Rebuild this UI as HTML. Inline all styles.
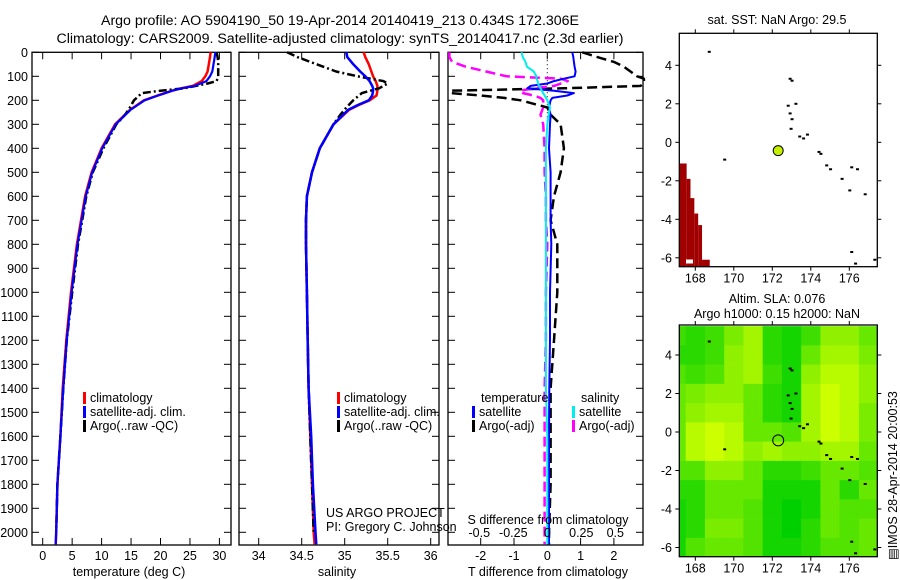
<!DOCTYPE html>
<html><head><meta charset="utf-8">
<style>
html,body{margin:0;padding:0;background:#fff;}
svg{display:block;font-family:"Liberation Sans",sans-serif;}
text{font-size:12.5px;fill:#000;}
.ttl{font-size:14.2px;}
</style></head>
<body>
<svg id="c" width="900" height="580" viewBox="0 0 900 580">
<text class="ttl" x="340" y="25" text-anchor="middle">Argo profile: AO 5904190_50 19-Apr-2014 20140419_213 0.434S 172.306E</text>
<text class="ttl" x="340" y="43" text-anchor="middle">Climatology: CARS2009. Satellite-adjusted climatology: synTS_20140417.nc (2.3d earlier)</text>
<g id="g"></g>
</svg>
<script>
// ---- data ----
const depthTicks=[0,100,200,300,400,500,600,700,800,900,1000,1100,1200,1300,1400,1500,1600,1700,1800,1900,2000];
const tempTicks=[0,5,10,15,20,25,30];
const salTicks=[34,34.5,35,35.5,36];
const salTickLabels=["34","34.5","35","35.5","36"];
const tdTicks=[-2,-1,0,1,2];
const sdTicks=[-0.5,-0.25,0,0.25,0.5];
const sdTickLabels=["-0.5","-0.25","0","0.25","0.5"];

const climDepth=[0,20,50,80,100,120,140,150,160,180,200,220,240,300,400,500,600,700,800,1000,1200,1400,1600,1800,2000,2050];
const climTemp=[28.5,28.4,28.2,28.0,27.6,27.0,25.5,23.5,22.0,19.5,17.2,16.0,14.8,12.3,10.0,8.3,7.2,6.5,5.8,4.8,4.0,3.4,3.0,2.5,2.3,2.2];
const satTemp=[29.3,29.2,29.0,28.8,28.4,27.8,25.8,23.6,22.0,19.6,17.3,16.1,14.9,12.4,10.1,8.4,7.3,6.6,5.9,4.9,4.1,3.5,3.0,2.5,2.3,2.2];
const climSal=[35.22,35.24,35.28,35.31,35.33,35.36,35.38,35.38,35.38,35.37,35.29,35.16,35.05,34.87,34.71,34.62,34.56,34.55,34.55,34.56,34.57,34.58,34.6,34.62,34.64,34.65];
const satSal=[35.02,35.03,35.1,35.18,35.24,35.29,35.32,35.33,35.33,35.32,35.28,35.15,35.04,34.87,34.71,34.62,34.56,34.55,34.55,34.56,34.57,34.58,34.61,34.63,34.66,34.67];

const argoDepth=[0,20,40,60,80,100,110,120,130,150,160,170,200,230,260,300,400,500,600,700,800,1000,1200,1400,1600,1800,2000];
const argoTemp=[29.5,29.7,29.8,29.8,29.8,29.8,29.7,29.5,28.0,24.0,20.0,16.8,15.5,14.8,14.0,12.5,10.3,8.5,7.4,6.7,6.0,5.0,4.1,3.5,3.0,2.5,2.3];
const argoSal=[34.33,34.45,34.6,34.75,34.9,35.15,35.3,35.45,35.5,35.4,35.3,35.2,35.1,35.02,34.95,34.87,34.71,34.62,34.56,34.55,34.55,34.56,34.57,34.58,34.6,34.62,34.64];

const diffDepth=[0,20,40,60,80,100,110,120,130,140,150,160,170,180,190,200,230,260,300,400,500,600,700,800,1000,1200,1400,1600,1800,2000,2050];
const satTdiff=[0.75,0.78,0.8,0.82,0.85,0.82,0.5,0.2,0.0,-0.5,-0.6,0.2,0.8,0.6,0.15,0.1,0.05,0.1,0.08,0.05,0.1,0.1,0.1,0.12,0.08,0.08,0.06,0.05,0.05,0.05,0.05];
const argoTdiff=[1.05,1.5,2.0,2.3,2.5,2.7,2.9,2.9,2.9,2.8,0.5,-2.9,-2.9,-2.0,-1.3,-0.8,0.0,0.1,0.4,0.5,0.4,0.2,0.1,0.3,0.3,0.2,0.1,0.1,0.1,0.05,0.05];
const satSdiff=[-0.19,-0.18,-0.16,-0.15,-0.1,-0.08,-0.08,-0.07,-0.07,-0.06,-0.05,-0.04,-0.03,-0.02,-0.01,0.0,0.02,0.01,0.0,-0.01,-0.01,-0.01,-0.01,-0.01,-0.01,-0.01,-0.01,0.0,0.0,0.0,0.0];
const argoSdiff=[-0.72,-0.72,-0.7,-0.6,-0.45,-0.3,0.1,0.15,0.1,0.05,-0.1,-0.2,-0.18,-0.1,-0.05,-0.03,-0.03,-0.05,-0.03,-0.02,-0.02,-0.01,-0.01,0.0,-0.01,-0.01,-0.02,-0.02,-0.02,-0.02,-0.02];

const mapLonTicks=[168,170,172,174,176];
const mapLatTicks=[4,2,0,-2,-4,-6];
const argoLon=172.306, argoLat=-0.434;
const slaLats=[5,4,3,2,1,0,-1,-2,-3,-4,-5,-6];
const slaLons=[167,168,169,170,171,172,173,174,175,176,177];
const slaGrid=[
[0.3,0.2,0.3,0.6,0.8,0.2,0.1,0.3,0.7,0.7,0.5],
[0.2,0.2,0.3,0.7,0.8,0.2,0.1,0.5,0.8,0.8,0.6],
[0.4,0.3,0.4,0.7,0.8,0.3,0.1,0.7,0.9,0.9,0.7],
[0.5,0.6,0.7,0.7,0.5,0.2,0.1,0.8,1.0,0.9,0.7],
[0.5,0.7,0.8,0.8,0.5,0.2,0.1,0.8,1.0,0.9,0.6],
[0.5,0.9,1.0,0.9,0.5,0.5,0.4,0.8,1.0,0.9,0.6],
[0.5,0.9,1.0,0.9,0.7,0.8,0.7,0.7,0.8,0.8,0.5],
[0.4,0.4,0.7,0.7,0.5,0.2,0.2,0.3,0.5,0.5,0.4],
[0.2,0.2,0.5,0.5,0.5,0.1,0.1,0.1,0.5,0.2,0.5],
[0.1,0.2,0.5,0.5,0.4,0.1,0.0,0.1,0.5,0.4,0.4],
[0.1,0.2,0.6,0.6,0.4,0.1,0.0,0.2,0.5,0.4,0.5],
[0.1,0.4,0.5,0.5,0.4,0.1,0.1,0.2,0.4,0.4,0.5]];
const sstMaskLon=[167.2,167.55,167.75,167.95,168.15,168.35,168.75];
const sstMaskLat=[-1.1,-1.9,-2.9,-3.7,-4.3,-6.1];

// ---- helpers ----
const NS="http://www.w3.org/2000/svg";
const G=document.getElementById('g');
function el(tag,attrs,parent,txt){const e=document.createElementNS(NS,tag);for(const k in attrs)e.setAttribute(k,attrs[k]);if(txt!==undefined)e.textContent=txt;(parent||G).appendChild(e);return e;}
const Y0=52.3, YS=0.24;
const yD=d=>Y0+d*YS;
const xT=t=>42.7+t*5.89;
const xS=s=>258.7+(s-34)*86;
const xTd=t=>547.3+t*33.3;
const xSd=s=>547.3+s*136;
const BOT=545;
function line(xs,ds,fx,color,w,dash,name){
  const pts=xs.map((v,i)=>fx(v).toFixed(1)+","+yD(ds[i]).toFixed(1)).join(" ");
  const p=el('polyline',{points:pts,fill:'none',stroke:color,'stroke-width':w,'stroke-dasharray':dash||'none','stroke-linejoin':'round'});
  
  
}
function frame(x1,x2,name){
  const r=el('rect',{x:x1,y:Y0,width:x2-x1,height:BOT-Y0,fill:'none',stroke:'#000','stroke-width':1.3});
  
  
  depthTicks.forEach(d=>{el('line',{x1:x1,x2:x1+7,y1:yD(d),y2:yD(d),stroke:'#000'});el('line',{x1:x2-7,x2:x2,y1:yD(d),y2:yD(d),stroke:'#000'});});
}
function xticks(vals,fx,labels,y,name){
  vals.forEach((v,i)=>{const x=fx(v);
    el('line',{x1:x,x2:x,y1:BOT,y2:BOT-7,stroke:'#000'});
    el('line',{x1:x,x2:x,y1:Y0,y2:Y0+7,stroke:'#000'});
    const t=el('text',{x:x,y:y,'text-anchor':'middle'},null,labels[i]);
    
    
  });
}
function legendItem(x,y,color,label,name){
  el('rect',{x:x,y:y-10,width:3,height:12,fill:color});
  const t=el('text',{x:x+7,y:y},null,label);
  
  
}

// depth labels
depthTicks.forEach(d=>{const t=el('text',{x:28,y:yD(d)+4.5,'text-anchor':'end'},null,String(d));
  
  });

// panel 1
frame(32,231,'temperature-panel');
xticks(tempTicks,xT,tempTicks.map(String),560,'temperature-tick-label');
line(climTemp,climDepth,xT,'#f00',2.5,null,'temp-climatology-line');
line(argoTemp,argoDepth,xT,'#000',2.5,'8 3 2 3','temp-argo-line');
line(satTemp,climDepth,xT,'#00f',2.2,null,'temp-satellite-line');
el('text',{x:129,y:576,'text-anchor':'middle'},null,'temperature (deg C)');
legendItem(83,402,'#f00','climatology','legend-climatology');
legendItem(83,416,'#00f','satellite-adj. clim.','legend-satellite');
legendItem(83,430,'#000','Argo(..raw -QC)','legend-argo');

// panel 2
frame(239,439,'salinity-panel');
xticks(salTicks,xS,salTickLabels,560,'salinity-tick-label');
line(climSal,climDepth,xS,'#f00',2.5,null,'sal-climatology-line');
line(argoSal,argoDepth,xS,'#000',2.5,'8 3 2 3','sal-argo-line');
line(satSal,climDepth,xS,'#00f',2.5,null,'sal-satellite-line');
el('text',{x:337,y:576,'text-anchor':'middle'},null,'salinity');
legendItem(337,402,'#f00','climatology','legend-climatology-2');
legendItem(337,416,'#00f','satellite-adj. clim.','legend-satellite-2');
legendItem(337,430,'#000','Argo(..raw -QC)','legend-argo-2');
el('text',{x:326,y:517},null,'US ARGO PROJECT');
el('text',{x:326,y:531},null,'PI: Gregory C. Johnson');

// panel 3
frame(448,643,'difference-panel');
xticks(tdTicks,xTd,tdTicks.map(String),560,'tdiff-tick-label');
el('line',{x1:xTd(0),x2:xTd(0),y1:Y0,y2:yD(300),stroke:'#000','stroke-dasharray':'1 3'});
line(argoTdiff,diffDepth,xTd,'#000',2.5,'10 5','tdiff-argo-line');
line(argoSdiff,diffDepth,xSd,'#f0f',2.5,'10 5','sdiff-argo-line');
line(satTdiff,diffDepth,xTd,'#00f',2,null,'tdiff-satellite-line');
line(satSdiff,diffDepth,xSd,'#0ee',2,null,'sdiff-satellite-line');
sdTicks.forEach((v,i)=>{const t=el('text',{x:xSd(v),y:537,'text-anchor':'middle'},null,sdTickLabels[i]);
  
  });
el('text',{x:548,y:524,'text-anchor':'middle'},null,'S difference from climatology');
el('text',{x:548,y:576,'text-anchor':'middle'},null,'T difference from climatology');
el('text',{x:481,y:402},null,'temperature');
el('text',{x:581,y:402},null,'salinity');
legendItem(472,416,'#00f','satellite','legend-t-satellite');
legendItem(472,430,'#000','Argo(-adj)','legend-t-argo');
legendItem(572,416,'#0ee','satellite','legend-s-satellite');
legendItem(572,430,'#f0f','Argo(-adj)','legend-s-argo');

// maps
const MX1=679.3,MX2=877.3;
const lonX=l=>695.3+(l-168)*19.25;
function mapAxes(top,bot,lat0,name){
  const latY=l=>lat0-l*19.25;
  const r=el('rect',{x:MX1,y:top,width:MX2-MX1,height:bot-top,fill:'none',stroke:'#000','stroke-width':1.3});
  
  
  mapLonTicks.forEach(l=>{const x=lonX(l);el('line',{x1:x,x2:x,y1:top,y2:top-4,stroke:'#000'});el('line',{x1:x,x2:x,y1:bot,y2:bot+4,stroke:'#000'});
    const t=el('text',{x:x,y:bot+16,'text-anchor':'middle'},null,String(l));
    
    });
  mapLatTicks.forEach(l=>{const y=latY(l);el('line',{x1:MX1,x2:MX1-4,y1:y,y2:y,stroke:'#000'});el('line',{x1:MX2,x2:MX2+4,y1:y,y2:y,stroke:'#000'});
    const t=el('text',{x:672,y:y+4.5,'text-anchor':'end'},null,String(l));
    
    });
  return latY;
}
function coast(latY){
  const bits=[[168.7,4.7],[172.9,3.3],[173.0,3.2],[172.8,1.9],[172.9,1.5],[173.0,1.2],[173.2,2.0],[172.95,0.7],[173.4,0.3],[173.6,0.2],[173.8,0.4],[174.4,-0.5],[174.5,-0.6],[174.8,-1.2],[175.0,-1.4],[175.6,-1.9],[176.1,-1.3],[176.4,-1.4],[176.0,-2.5],[176.8,-2.7],[169.5,-0.9],[176.1,-5.7],[176.3,-6.3],[177.3,-6.1]];
  bits.forEach(b=>{const c=el('rect',{x:lonX(b[0])-1,y:latY(b[1])-1,width:3,height:2,fill:'#000'});
    
    });
}
// map 1 (SST)
el('text',{x:777,y:24,'text-anchor':'middle'},null,'sat. SST: NaN Argo: 29.5');
const latY1=mapAxes(33.3,266.7,142.3,'sst-map');
for(let i=0;i<sstMaskLat.length;i++){
  const m=el('rect',{x:lonX(sstMaskLon[i]),y:latY1(sstMaskLat[i]),width:lonX(sstMaskLon[i+1])-lonX(sstMaskLon[i]),height:266-latY1(sstMaskLat[i]),fill:'#a00000'});
  
  
}
el('rect',{x:686,y:259.5,width:7,height:4,fill:'#fff'});
coast(latY1);
const d1=el('circle',{cx:lonX(argoLon),cy:latY1(argoLat),r:5,fill:'#c4f000',stroke:'#000','stroke-width':1});



// map 2 (SLA)
el('text',{x:777,y:303,'text-anchor':'middle'},null,'Altim. SLA: 0.076');
el('text',{x:777,y:318,'text-anchor':'middle'},null,'Argo h1000: 0.15 h2000: NaN');
const T2=325,B2=556.7;
const latY2=l=>432-l*19.25;
const cg=el('g',{});
cg.setAttribute('clip-path','url(#clip2)');
const cp=el('clipPath',{id:'clip2'});el('rect',{x:MX1,y:T2,width:MX2-MX1,height:B2-T2},cp);
function slaColor(v){const r=Math.round(0+v*204),g=Math.round(208+v*47);return 'rgb('+r+','+g+',0)';}
slaLats.forEach((la,i)=>slaLons.forEach((lo,j)=>{
  const c=el('rect',{x:lonX(lo-0.5),y:latY2(la+0.5),width:19.6,height:19.6,fill:slaColor(slaGrid[i][j])},cg);
  
  
}));
mapAxes(T2,B2,432,'sla-map');
coast(latY2);
const d2=el('circle',{cx:lonX(argoLon),cy:latY2(argoLat),r:5.5,fill:'none',stroke:'#000','stroke-width':1});


const it=el('text',{x:0,y:0,transform:'translate(897,560) rotate(-90)',style:'font-size:12.5px'},null,'\u25A4IMOS 28-Apr-2014 20:00:53');


</script>
</body></html>
